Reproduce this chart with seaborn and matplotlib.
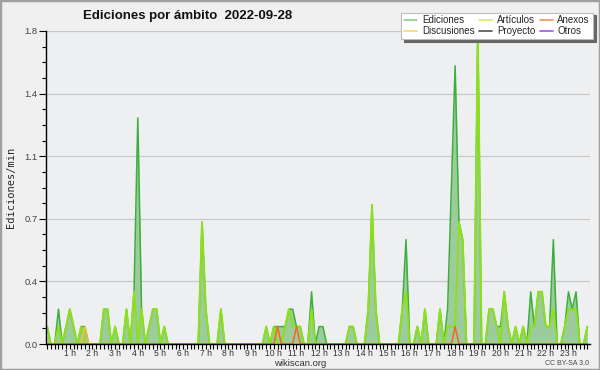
import numpy as np
import pandas as pd
import matplotlib
matplotlib.use("Agg")
import matplotlib.pyplot as plt
import matplotlib.patches as mpatches
from matplotlib.lines import Line2D
from matplotlib.ticker import MultipleLocator, FixedLocator, FormatStrFormatter
import seaborn as sns

# edits per minute, one value per 10-minute slot (6 per hour, 144 total)
ediciones = [
    0.1, 0, 0, 0.2, 0, 0.1,        # 0 h
    0.2, 0.1, 0, 0.1, 0.1, 0,      # 1 h
    0, 0, 0, 0.2, 0.2, 0,          # 2 h
    0.1, 0, 0, 0.2, 0, 0.3,        # 3 h
    1.3, 0.2, 0, 0.1, 0.2, 0.2,    # 4 h
    0, 0.1, 0, 0, 0, 0,            # 5 h
    0, 0, 0, 0, 0, 0.7,            # 6 h
    0.2, 0, 0, 0, 0.2, 0,          # 7 h
    0, 0, 0, 0, 0, 0,              # 8 h
    0, 0, 0, 0, 0.1, 0,            # 9 h
    0.1, 0.1, 0.1, 0.1, 0.2, 0.2,  # 10 h
    0.1, 0.1, 0, 0, 0.3, 0,        # 11 h
    0.1, 0.1, 0, 0, 0, 0,          # 12 h
    0, 0, 0.1, 0.1, 0, 0,          # 13 h
    0, 0.2, 0.8, 0.2, 0, 0,        # 14 h
    0, 0, 0, 0, 0.2, 0.6,          # 15 h
    0, 0, 0.1, 0, 0.2, 0,          # 16 h
    0, 0, 0.2, 0, 0.2, 0.9,        # 17 h
    1.6, 0.7, 0.6, 0, 0, 0,        # 18 h
    1.8, 0, 0, 0.2, 0.2, 0.1,      # 19 h
    0.1, 0.3, 0.1, 0, 0.1, 0,      # 20 h
    0.1, 0, 0.3, 0.1, 0.3, 0.3,    # 21 h
    0.1, 0.1, 0.6, 0, 0, 0.1,      # 22 h
    0.3, 0.2, 0.3, 0, 0, 0.1,      # 23 h
]
articulos = [
    0.1, 0, 0, 0.1, 0, 0.1,
    0.2, 0.1, 0, 0.1, 0, 0,
    0, 0, 0, 0.2, 0.2, 0,
    0.1, 0, 0, 0.2, 0, 0.3,
    0, 0.2, 0, 0.1, 0.2, 0.2,
    0, 0.1, 0, 0, 0, 0,
    0, 0, 0, 0, 0, 0.7,
    0.2, 0, 0, 0, 0.2, 0,
    0, 0, 0, 0, 0, 0,
    0, 0, 0, 0, 0.1, 0,
    0.1, 0, 0, 0.1, 0.2, 0.1,
    0.1, 0.1, 0, 0, 0.2, 0,
    0, 0, 0, 0, 0, 0,
    0, 0, 0.1, 0.1, 0, 0,
    0, 0.2, 0.8, 0.2, 0, 0,
    0, 0, 0, 0, 0.2, 0.3,
    0, 0, 0.1, 0, 0.2, 0,
    0, 0, 0.2, 0, 0.1, 0.1,
    0.1, 0.7, 0.6, 0, 0, 0,
    1.8, 0, 0, 0.2, 0.2, 0.1,
    0, 0.3, 0.1, 0, 0.1, 0,
    0.1, 0, 0.1, 0.1, 0.3, 0.3,
    0.1, 0.1, 0.2, 0, 0, 0.1,
    0.2, 0.2, 0.2, 0, 0, 0.1,
]
anexos = [0.0] * 144
anexos[61] = 0.1
anexos[66] = 0.1
anexos[108] = 0.1
discusiones = [0.0] * 144
discusiones[10] = 0.1
proyecto = [0.0] * 144
otros = [0.0] * 144

hour_labels = [f"{h} h" for h in range(1, 24)]
slots = np.arange(144)

df = pd.DataFrame({"slot": slots, "Ediciones": ediciones, "Artículos": articulos,
                   "Anexos": anexos, "Discusiones": discusiones,
                   "Proyecto": proyecto, "Otros": otros})

sns.set_theme(style="white")
plt.rcParams["font.family"] = ["Liberation Sans", "DejaVu Sans"]

fig = plt.figure(figsize=(6, 3.7), dpi=100, facecolor="#f0f0f0")
ax = fig.add_axes([46 / 600, 1 - 344 / 370, 544 / 600, 313 / 370])
ax.set_facecolor("#edeff1")

# ediciones area + line
ax.fill_between(df["slot"], df["Ediciones"], color="#9ccb9c", lw=0, zorder=1.5)
sns.lineplot(data=df, x="slot", y="Ediciones", ax=ax, color="#3daf3d", lw=1.1, zorder=2)
sns.lineplot(data=df, x="slot", y="Artículos", ax=ax, color="#8ee01a", lw=1.4, zorder=2.1)
sns.lineplot(data=df, x="slot", y="Discusiones", ax=ax, color="#f2c233", lw=1.1, zorder=2.2)
sns.lineplot(data=df, x="slot", y="Anexos", ax=ax, color="#f06a1e", lw=1.1, zorder=2.2)

ax.set_xlim(-0.3, 143.7)
ax.set_ylim(0, 1.8)

# y axis
ax.yaxis.set_major_locator(MultipleLocator(0.36))
ax.yaxis.set_minor_locator(MultipleLocator(0.09))
ax.yaxis.set_major_formatter(FormatStrFormatter("%.1f"))
ax.grid(axis="y", which="major", color="#c8c8c8", lw=0.9)
ax.set_axisbelow(True)

# x axis: a tick each 10 min, a label each hour
ax.xaxis.set_major_locator(FixedLocator(np.arange(6, 144, 6)))
ax.set_xticklabels(hour_labels)
ax.xaxis.set_minor_locator(MultipleLocator(1))

ax.tick_params(axis="both", which="both", direction="out", color="black", width=0.8)
ax.tick_params(axis="y", which="major", length=5, labelsize=6.8, labelcolor="#444444", pad=1)
ax.tick_params(axis="y", which="minor", length=3)
ax.tick_params(axis="x", which="both", length=3.5, labelsize=6.2, labelcolor="#333333", pad=0)
ax.tick_params(left=True, bottom=True, which="both")

for s in ["top", "right"]:
    ax.spines[s].set_visible(False)
for s in ["left", "bottom"]:
    ax.spines[s].set_color("black")
    ax.spines[s].set_linewidth(1.0)
    ax.spines[s].set_zorder(3)

ax.set_xlabel("")
ax.set_ylabel("Ediciones/min", family="DejaVu Sans Mono", fontsize=7.5, labelpad=6)

fig.text(0.313, 0.958, "Ediciones por ámbito  2022-09-28", ha="center", va="center",
         fontsize=9.5, fontweight="bold", color="#111111")
fig.text(0.5, 0.017, "wikiscan.org", ha="center", va="center", fontsize=6.8, color="#333333")
fig.text(0.982, 0.017, "CC BY-SA 3.0", ha="right", va="center", fontsize=5, color="#444444")

# legend (order fills columns)
names = ["Ediciones", "Discusiones", "Artículos", "Proyecto", "Anexos", "Otros"]
leg_colors = ["#8ed08e", "#f8d860", "#cff06a", "#505050", "#f39061", "#9a55ee"]
handles = [Line2D([], [], color=c, lw=1.2) for c in leg_colors]
leg = fig.legend(handles, names, ncol=3, loc="upper right", bbox_to_anchor=(0.988, 0.966),
                 fontsize=7, frameon=True, fancybox=False, shadow={"color": "#666666", "alpha": 1},
                 handlelength=1.3, handletextpad=0.5, columnspacing=0.5, labelspacing=0.1,
                 borderpad=0.3, borderaxespad=0)
leg.get_frame().set_edgecolor("#bbbbbb")
leg.get_frame().set_linewidth(0.8)
leg.get_frame().set_facecolor("white")

# outer border
fig.patches.append(mpatches.Rectangle((0, 0), 1, 1, transform=fig.transFigure,
                                      fill=False, edgecolor="#a0a0a0", lw=2.5))

fig.savefig("out.png", dpi=100, facecolor=fig.get_facecolor())
